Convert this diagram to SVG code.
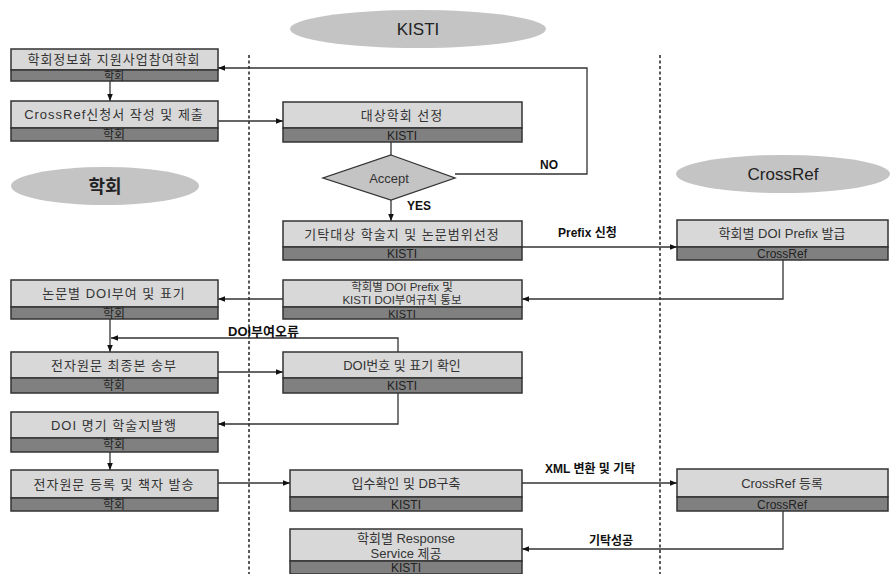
<svg xmlns="http://www.w3.org/2000/svg" width="890" height="574" viewBox="0 0 890 574">
<style>
text{font-family:"Liberation Sans","Noto Sans CJK KR",sans-serif}
.lt{fill:#d8d8d8;stroke:#333;stroke-width:1.5}
.dk{fill:#808080;stroke:#333;stroke-width:1.5}
.t{font-size:13px;fill:#333;text-anchor:middle;letter-spacing:1px}
.s{font-size:12px;fill:#222;text-anchor:middle}
.el{fill:#c4c4c4}
.et{font-size:17px;fill:#222;text-anchor:middle}
.ln{fill:none;stroke:#333;stroke-width:1.3}
.lb{font-size:12px;font-weight:bold;fill:#111}
.dash{stroke:#222;stroke-width:1.5;stroke-dasharray:3 2.5}
</style>
<defs>
<marker id="ah" viewBox="0 0 10 10" refX="10" refY="5" markerWidth="7" markerHeight="7" markerUnits="userSpaceOnUse" orient="auto">
<path d="M0,1 L10,5 L0,9 Z" fill="#111"/>
</marker>
</defs>

<g id="lanes">
<line class="dash" x1="249" y1="55" x2="249" y2="574"/>
<line class="dash" x1="660" y1="55" x2="660" y2="574"/>
<g id="lane-kisti"><ellipse class="el" cx="418" cy="29" rx="128" ry="19"/><text class="et" x="418" y="35">KISTI</text></g>
<g id="lane-hakhoe"><ellipse class="el" cx="105" cy="186" rx="94" ry="19"/><text class="et" x="105" y="193" style="font-size:18px;font-weight:bold">학회</text></g>
<g id="lane-crossref"><ellipse class="el" cx="783" cy="174" rx="107" ry="19"/><text class="et" x="783" y="180">CrossRef</text></g>
</g>

<g id="connectors">
<line class="ln" x1="110" y1="81" x2="110" y2="101" marker-end="url(#ah)"/>
<line class="ln" x1="218" y1="121" x2="283" y2="121" marker-end="url(#ah)"/>
<line class="ln" x1="391" y1="142" x2="391" y2="155"/>
<line class="ln" x1="391" y1="200" x2="391" y2="221" marker-end="url(#ah)"/>
<polyline class="ln" points="455,174 587,174 587,68 218,68" marker-end="url(#ah)"/>
<line class="ln" x1="522" y1="247" x2="677" y2="247" marker-end="url(#ah)"/>
<polyline class="ln" points="783,260 783,299 522,299" marker-end="url(#ah)"/>
<line class="ln" x1="283" y1="299" x2="218" y2="299" marker-end="url(#ah)"/>
<line class="ln" x1="110" y1="319" x2="110" y2="352" marker-end="url(#ah)"/>
<polyline class="ln" points="398,352 398,338 111,338" marker-end="url(#ah)"/>
<line class="ln" x1="218" y1="372" x2="283" y2="372" marker-end="url(#ah)"/>
<polyline class="ln" points="398,393 398,424 218,424" marker-end="url(#ah)"/>
<line class="ln" x1="110" y1="452" x2="110" y2="470" marker-end="url(#ah)"/>
<line class="ln" x1="218" y1="483" x2="290" y2="483" marker-end="url(#ah)"/>
<line class="ln" x1="522" y1="483" x2="677" y2="483" marker-end="url(#ah)"/>
<polyline class="ln" points="783,511 783,549 522,549" marker-end="url(#ah)"/>
<text class="lb" x="540" y="169">NO</text>
<text class="lb" x="407" y="210">YES</text>
<text class="lb" x="558" y="237">Prefix 신청</text>
<text class="lb" x="228" y="336" style="font-size:13px">DOI부여오류</text>
<text class="lb" x="545" y="473">XML 변환 및 기탁</text>
<text class="lb" x="589" y="545">기탁성공</text>
</g>

<g id="b1"><rect class="lt" x="11" y="49" width="207" height="21"/><rect class="dk" x="11" y="70" width="207" height="11"/><text class="t" x="114" y="64">학회정보화 지원사업참여학회</text><text class="s" x="114" y="80" style="font-size:11px">학회</text></g>
<g id="b2"><rect class="lt" x="11" y="101" width="207" height="27"/><rect class="dk" x="11" y="128" width="207" height="13"/><text class="t" x="114" y="119">CrossRef신청서 작성 및 제출</text><text class="s" x="114" y="139">학회</text></g>
<g id="b3"><rect class="lt" x="11" y="280" width="207" height="27"/><rect class="dk" x="11" y="307" width="207" height="12"/><text class="t" x="114" y="298">논문별 DOI부여 및 표기</text><text class="s" x="114" y="318">학회</text></g>
<g id="b4"><rect class="lt" x="11" y="352" width="207" height="26"/><rect class="dk" x="11" y="378" width="207" height="15"/><text class="t" x="114" y="370">전자원문 최종본 송부</text><text class="s" x="114" y="390">학회</text></g>
<g id="b5"><rect class="lt" x="11" y="412" width="207" height="26"/><rect class="dk" x="11" y="438" width="207" height="14"/><text class="t" x="114" y="430">DOI 명기 학술지발행</text><text class="s" x="114" y="449">학회</text></g>
<g id="b6"><rect class="lt" x="11" y="470" width="207" height="28"/><rect class="dk" x="11" y="498" width="207" height="13"/><text class="t" x="114" y="489">전자원문 등록 및 책자 발송</text><text class="s" x="114" y="509">학회</text></g>

<g id="k1"><rect class="lt" x="283" y="102" width="239" height="26"/><rect class="dk" x="283" y="128" width="239" height="14"/><text class="t" x="402" y="120">대상학회 선정</text><text class="s" x="402" y="140">KISTI</text></g>
<g id="accept"><polygon points="391,155 455,178 391,200 323,178" fill="#c4c4c4" stroke="#333" stroke-width="1.3"/><text class="t" x="389" y="183" style="letter-spacing:0">Accept</text></g>
<g id="k2"><rect class="lt" x="283" y="221" width="239" height="26"/><rect class="dk" x="283" y="247" width="239" height="13"/><text class="t" x="402" y="239">기탁대상 학술지 및 논문범위선정</text><text class="s" x="402" y="258">KISTI</text></g>
<g id="k3"><rect class="lt" x="283" y="280" width="239" height="27"/><rect class="dk" x="283" y="307" width="239" height="12"/><text class="t" x="402" y="291" style="letter-spacing:0;font-size:11.5px">학회별 DOI Prefix 및</text><text class="t" x="402" y="304" style="letter-spacing:0;font-size:11.5px">KISTI DOI부여규칙 통보</text><text class="s" x="402" y="318" style="font-size:11px">KISTI</text></g>
<g id="k4"><rect class="lt" x="283" y="352" width="239" height="26"/><rect class="dk" x="283" y="378" width="239" height="15"/><text class="t" x="402" y="370" style="letter-spacing:0">DOI번호 및 표기 확인</text><text class="s" x="402" y="390">KISTI</text></g>
<g id="k5"><rect class="lt" x="290" y="470" width="232" height="27"/><rect class="dk" x="290" y="497" width="232" height="14"/><text class="t" x="406" y="488" style="letter-spacing:0">입수확인 및 DB구축</text><text class="s" x="406" y="509">KISTI</text></g>
<g id="k6"><rect class="lt" x="290" y="529" width="232" height="32"/><rect class="dk" x="290" y="561" width="232" height="13"/><text class="t" x="406" y="543" style="letter-spacing:0">학회별 Response</text><text class="t" x="406" y="558" style="letter-spacing:0">Service 제공</text><text class="s" x="406" y="572">KISTI</text></g>

<g id="c1"><rect class="lt" x="677" y="220" width="211" height="27"/><rect class="dk" x="677" y="247" width="211" height="13"/><text class="t" x="782" y="238" style="letter-spacing:0">학회별 DOI Prefix 발급</text><text class="s" x="782" y="258">CrossRef</text></g>
<g id="c2"><rect class="lt" x="677" y="469" width="211" height="28"/><rect class="dk" x="677" y="497" width="211" height="14"/><text class="t" x="782" y="488" style="letter-spacing:0">CrossRef 등록</text><text class="s" x="782" y="509">CrossRef</text></g>
</svg>
